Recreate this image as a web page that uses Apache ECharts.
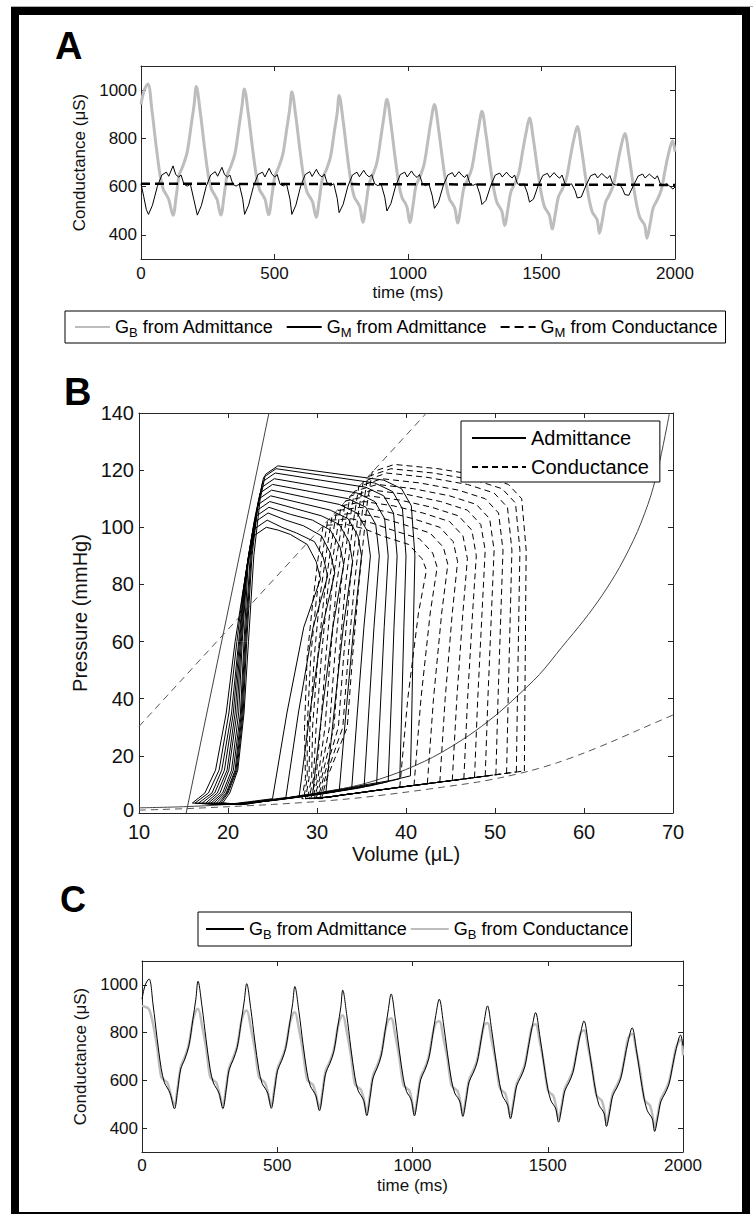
<!DOCTYPE html>
<html>
<head>
<meta charset="utf-8">
<script src="https://cdn.jsdelivr.net/npm/echarts@6.0.0/dist/echarts.min.js"></script>
<style>
html,body{margin:0;padding:0;background:#fff;}
#chart{width:753px;height:1214px;}
</style>
</head>
<body>
<div id="chart"></div>
<script>
// ---------------- DATA ----------------
// Panel A / C: time (ms) vs conductance (uS)
const timeTicks = [0, 500, 1000, 1500, 2000];
const conductanceTicks = [400, 600, 800, 1000];

const gbAdmittance = [
[0,940],[12,1000],[26,1025],
[41,916],[56,775],[71,650],[83,590],[94,568],[104,546],[120,481],
[132,561],[143,647],[158,689],[173,743],[188,855],[199,940],[207,1015],
[222,908],[237,770],[252,647],[264,589],[275,567],[285,546],[299,482],
[311,560],[322,644],[337,686],[352,738],[367,848],[378,932],[387,1005],
[402,901],[417,765],[432,645],[444,587],[455,567],[465,546],[478,483],
[490,560],[501,641],[516,682],[531,733],[546,840],[557,922],[565,993],
[580,889],[595,754],[610,634],[622,577],[633,556],[643,535],[656,473],
[668,549],[679,630],[694,670],[709,720],[724,827],[735,907],[742,978],
[757,873],[772,736],[787,615],[799,557],[810,536],[820,515],[831,452],
[843,529],[854,610],[869,651],[884,702],[899,809],[910,891],[921,962],
[936,860],[951,727],[966,609],[978,553],[989,533],[997,512],[1007,451],
[1019,524],[1030,603],[1045,642],[1060,691],[1075,793],[1086,872],[1099,940],
[1114,842],[1129,714],[1144,601],[1156,547],[1167,528],[1176,508],[1186,449],
[1198,518],[1209,593],[1224,630],[1239,676],[1254,773],[1265,847],[1277,912],
[1292,817],[1307,694],[1322,586],[1333,534],[1343,515],[1352,496],[1362,439],
[1374,506],[1385,577],[1400,613],[1415,657],[1430,751],[1442,822],[1455,884],
[1470,792],[1485,673],[1500,567],[1511,517],[1521,498],[1530,480],[1540,425],
[1552,489],[1563,556],[1578,590],[1593,633],[1608,722],[1620,790],[1634,849],
[1649,761],[1664,646],[1679,544],[1690,495],[1700,478],[1709,460],[1717,407],
[1729,469],[1740,535],[1755,568],[1770,609],[1785,696],[1797,762],[1812,820],
[1827,733],[1842,620],[1857,521],[1868,473],[1878,455],[1887,438],[1895,386],
[1907,447],[1918,511],[1933,544],[1948,584],[1963,669],[1975,733],[1991,790],[2000,745]
];

const gbConductance = [
[0,912],[12,908],[26,898],
[41,835],[56,737],[71,615],[83,600],[94,590],[104,550],[120,495],
[132,571],[143,655],[158,697],[173,750],[188,850],[199,892],[207,900],
[222,830],[237,735],[252,615],[264,600],[275,590],[285,550],[299,495],
[311,570],[322,652],[337,694],[352,745],[367,845],[378,885],[387,893],
[402,823],[417,731],[432,615],[444,600],[455,590],[465,550],[478,495],
[490,570],[501,649],[516,690],[531,740],[546,835],[557,877],[565,885],
[580,815],[595,722],[610,605],[622,590],[633,580],[643,540],[656,485],
[668,560],[679,640],[694,678],[709,728],[724,823],[735,865],[742,873],
[757,803],[772,707],[787,585],[799,570],[810,560],[820,520],[831,465],
[843,540],[854,620],[869,660],[884,710],[899,808],[910,852],[921,860],
[936,790],[951,698],[966,582],[978,567],[989,557],[997,517],[1007,462],
[1019,535],[1030,612],[1045,650],[1060,700],[1075,795],[1086,840],[1099,848],
[1114,778],[1129,692],[1144,580],[1156,565],[1167,555],[1176,515],[1186,460],
[1198,528],[1209,602],[1224,640],[1239,685],[1254,775],[1265,832],[1277,840],
[1292,770],[1307,683],[1322,570],[1333,555],[1343,545],[1352,505],[1362,450],
[1374,516],[1385,586],[1400,622],[1415,666],[1430,755],[1442,825],[1455,835],
[1470,765],[1485,675],[1500,560],[1511,545],[1521,535],[1530,495],[1540,440],
[1552,499],[1563,565],[1578,600],[1593,642],[1608,725],[1620,795],[1634,810],
[1649,740],[1664,653],[1679,540],[1690,525],[1700,515],[1709,475],[1717,420],
[1729,479],[1740,545],[1755,578],[1770,618],[1785,700],[1797,775],[1812,795],
[1827,725],[1842,635],[1857,520],[1868,505],[1878,495],[1887,455],[1895,400],
[1907,457],[1918,521],[1933,554],[1948,594],[1963,672],[1975,740],[1991,770],[2000,705]
];

const gmAdmittance = [
[0,612],[10,560],[20,505],[28,485],
[43,523],[61,600],[78,648],[95,660],[104,643],[120,686],[130,650],[141,640],[150,648],[161,610],[173,602],[185,610],[198,546],[211,482],
[226,521],[244,600],[261,648],[278,662],[287,643],[303,680],[313,650],[324,640],[333,648],[344,610],[356,602],[368,610],[381,548],[388,485],
[403,523],[421,600],[438,650],[455,660],[464,640],[480,676],[490,652],[501,640],[510,650],[521,610],[533,603],[545,612],[558,548],[565,485],
[580,523],[598,602],[615,650],[632,662],[641,642],[657,672],[667,650],[678,640],[687,652],[698,612],[710,604],[722,612],[735,551],[742,492],
[757,526],[775,602],[792,648],[809,660],[818,641],[834,668],[844,650],[855,640],[864,650],[875,612],[887,604],[899,612],[913,556],[921,499],
[936,530],[954,603],[971,650],[988,660],[997,640],[1013,665],[1023,648],[1034,638],[1043,650],[1054,612],[1066,604],[1078,612],[1091,561],[1099,510],
[1114,535],[1132,604],[1149,648],[1166,658],[1175,640],[1191,662],[1201,648],[1212,638],[1221,650],[1232,612],[1244,605],[1256,612],[1269,569],[1277,526],
[1292,543],[1310,605],[1327,648],[1344,656],[1353,640],[1369,660],[1379,646],[1390,636],[1399,648],[1410,612],[1422,605],[1434,612],[1447,574],[1455,536],
[1470,548],[1488,606],[1505,646],[1522,655],[1531,638],[1547,658],[1557,645],[1568,635],[1577,648],[1588,612],[1600,605],[1612,612],[1626,583],[1634,553],
[1649,557],[1667,606],[1684,645],[1701,653],[1710,636],[1726,655],[1736,643],[1747,634],[1756,646],[1767,612],[1779,606],[1791,612],[1804,590],[1812,567],
[1827,564],[1845,606],[1862,644],[1879,652],[1888,636],[1904,652],[1914,642],[1925,632],[1934,645],[1945,612],[1957,606],[1969,612],[1982,600],[1992,590],[2000,598]
];

const gmConductance = [[0,612],[500,611],[1000,610],[1500,608],[2000,607]];

// Panel B: volume (uL) vs pressure (mmHg)
const volumeTicks = [10, 20, 30, 40, 50, 60, 70];
const pressureTicks = [0, 20, 40, 60, 80, 100, 120, 140];

const espvrAdmittance = [[15.3,0],[24.6,140]];
const espvrConductance = [[10,30.3],[42.3,140]];
const edpvrAdmittance = [[10,1.8],[15,2.2],[20,3],[25,4.5],[30,6.8],[35,10],[39,14],[43,19.5],[47,27],[50,34],[52,39.5],[55,48.5],[57.5,58],[60,67.5],[62,76],[64,86],[66,98.5],[67.5,111],[68.5,123],[69.3,135],[69.6,140]];
const edpvrConductance = [[10,1],[15,1.5],[20,2.2],[25,3],[30,4],[35,5.4],[40,7.3],[44,9],[48,10.8],[51,12.6],[54,14.8],[57,17.6],[60,21],[63,24.8],[66,28.9],[70,34.3]];

const admittanceLoops = [
[[40.5,13],[40.65,35],[40.83,65],[41.0,90],[40.6,107.5],[39.5,113.5],[37.5,116.5],[31.55,119],[25.6,121.5],[24.2,118.5],[23.6,109.5],[22.9,90],[22.3,60],[21.8,35],[21.1,15],[20.2,7],[19.4,3.5],[21.9,3],[30,7],[38.5,11.5],[40.5,13]],
[[39.3,12],[39.51,35],[39.76,65],[40.0,90],[39.6,106.5],[38.5,112.5],[36.5,115.5],[30.95,118],[25.4,120.5],[24.0,117.5],[23.4,108.5],[22.7,90],[22.1,60],[21.7,35],[21.0,15],[20.0,7],[19.2,3.5],[21.7,3],[29.25,6.5],[37.3,10.5],[39.3,12]],
[[38.0,11],[38.3,35],[38.65,65],[39.0,90],[38.6,105],[37.5,111],[35.5,114],[30.4,116.5],[25.3,119],[23.9,116],[23.3,107],[22.6,90],[22.0,60],[21.6,35],[20.9,15],[19.9,7],[19.0,3.5],[21.5,3],[28.5,6],[36.0,9.5],[38.0,11]],
[[36.7,10.2],[37.09,35],[37.55,65],[38.0,90],[37.6,103],[36.5,109],[34.5,112],[29.85,114.5],[25.2,117],[23.8,114],[23.2,105],[22.5,90],[21.9,60],[21.5,35],[20.8,15],[19.8,7],[18.7,3.5],[21.2,3],[27.7,5.6],[34.7,8.7],[36.7,10.2]],
[[35.3,9.4],[35.81,35],[36.4,65],[37.0,90],[36.6,101],[35.5,107],[33.5,110],[29.25,112.5],[25.0,115],[23.6,112],[23.0,103],[22.3,90],[21.8,60],[21.4,35],[20.6,15],[19.6,7],[18.4,3.5],[20.9,3],[26.85,5.2],[33.3,8],[35.3,9.4]],
[[33.9,8.6],[34.53,35],[35.27,65],[36.0,90],[35.6,99],[34.5,105],[32.5,108],[28.7,110.5],[24.9,113],[23.5,110],[22.9,101],[22.2,88],[21.6,60],[21.2,35],[20.4,15],[19.4,7],[18.1,3.5],[20.6,3],[26.0,4.8],[31.9,7.3],[33.9,8.6]],
[[32.5,7.8],[33.25,35],[34.13,65],[35.0,90],[34.6,97],[33.5,103],[31.5,106],[28.15,108.5],[24.8,111],[23.4,108],[22.8,99],[22.1,86],[21.5,60],[21.0,35],[20.1,15],[19.1,7],[17.8,3.5],[20.3,3],[25.15,4.4],[30.5,6.6],[32.5,7.8]],
[[31.0,7.1],[31.9,35],[32.95,65],[34.0,88],[33.6,95],[32.5,101],[30.5,104],[27.6,106.5],[24.7,109],[23.3,106],[22.7,97],[22.0,84],[21.4,60],[20.8,35],[19.9,15],[18.8,7],[17.5,3.5],[20.0,3],[24.25,4.1],[29.0,6],[31.0,7.1]],
[[29.5,6.5],[30.55,35],[31.78,65],[33.0,87],[32.6,93],[31.5,99],[29.5,102.5],[27.05,104.5],[24.6,107],[23.2,104],[22.6,95],[21.9,82],[21.3,60],[20.6,35],[19.6,15],[18.5,7],[17.1,3.5],[19.6,3],[23.3,3.8],[27.5,5.5],[29.5,6.5]],
[[28.0,5.9],[29.2,35],[30.6,65],[32.0,84],[31.5,91],[30.5,97],[28.5,100.5],[26.5,102.5],[24.5,105],[23.1,102],[22.5,93],[21.8,80],[21.2,60],[20.4,35],[19.3,15],[18.2,7],[16.7,3.5],[19.2,3],[22.35,3.5],[26.0,5],[28.0,5.9]],
[[26.5,5.4],[27.91,35],[29.56,65],[31.2,83],[30.7,89.5],[29.7,95],[27.7,98],[26.05,100],[24.4,102.5],[23.0,99.5],[22.4,90.5],[21.7,78],[21.0,60],[20.1,35],[19.0,15],[17.8,7],[16.3,3.5],[18.8,3],[21.4,3.3],[24.5,4.6],[26.5,5.4]],
[[25.0,5.0],[26.62,35],[28.51,65],[30.4,82],[29.9,88],[28.9,94],[27.0,97.5],[25.65,99],[24.3,100],[22.9,97],[22.3,88],[21.6,76],[20.8,60],[19.8,35],[18.6,15],[17.4,7],[16.0,3.5],[18.5,3],[20.5,3.2],[23.0,4.2],[25.0,5.0]]
];

const conductanceLoops = [
[[53.3,14.7],[53.36,40],[53.44,70],[53.5,92],[53.0,110],[51.5,115],[48.5,118],[43.6,120.5],[38.7,122],[36.2,119.4],[35.6,107.4],[34.7,80],[34.0,55],[33.4,30],[31.1,12],[30.5,5],[33,6.4],[40,9.3],[47,12.1],[53.3,14.7]],
[[52.4,14.4],[52.52,40],[52.68,70],[52.8,92],[52.3,108.5],[50.8,113.5],[47.8,116.5],[43.05,119],[38.3,120.5],[35.7,117.7],[35.1,105.7],[34.2,80],[33.5,55],[32.9,30],[30.9,12],[30.3,5],[33,6.4],[40,9.3],[47,12.1],[52.4,14.4]],
[[51.3,13.9],[51.48,40],[51.72,70],[51.9,92],[51.4,107],[49.9,112],[46.9,115],[42.35,117.5],[37.8,119],[35.2,116],[34.6,104],[33.7,80],[33.0,55],[32.4,30],[30.7,12],[30.1,5],[32.8,6.3],[39.5,9.1],[46,11.7],[51.3,13.9]],
[[50.1,13.4],[50.34,40],[50.66,70],[50.9,92],[50.4,105],[48.9,110],[45.9,113],[41.6,115.5],[37.3,117],[34.7,114.3],[34.1,102.3],[33.2,80],[32.5,55],[31.9,30],[30.5,12],[29.9,5],[32.5,6.1],[39,8.9],[45,11.3],[50.1,13.4]],
[[48.9,12.9],[49.2,40],[49.6,70],[49.9,92],[49.4,103],[47.9,108],[44.9,111],[40.85,113.5],[36.8,115],[34.2,112.6],[33.6,100.6],[32.7,80],[32.0,55],[31.4,30],[30.3,12],[29.7,5],[32.2,6.0],[38.5,8.7],[44,10.9],[48.9,12.9]],
[[47.7,12.4],[48.06,40],[48.54,70],[48.9,92],[48.4,101],[46.9,106],[43.9,109],[40.1,111.5],[36.3,113],[33.7,110.9],[33.1,98.9],[32.2,80],[31.5,55],[30.9,30],[30.1,12],[29.5,5],[32,5.9],[38,8.5],[43,10.5],[47.7,12.4]],
[[46.5,11.9],[46.92,40],[47.48,70],[47.9,90],[47.4,99],[45.9,104],[42.9,107],[39.35,109.5],[35.8,111],[33.2,109.2],[32.6,97.2],[31.7,80],[31.0,55],[30.4,30],[29.9,12],[29.3,5],[31.8,5.8],[37.5,8.2],[42,10.1],[46.5,11.9]],
[[45.2,11.4],[45.71,40],[46.39,70],[46.9,89],[46.4,97],[44.9,102],[41.9,105],[38.6,107.5],[35.3,109],[32.7,107.5],[32.1,95.5],[31.2,78],[30.5,55],[29.9,30],[29.6,12],[29.1,5],[31.5,5.7],[37,8.0],[41,9.7],[45.2,11.4]],
[[43.8,10.8],[44.4,40],[45.2,70],[45.8,88],[45.3,95],[43.8,100],[40.8,103],[37.8,105.5],[34.8,107],[32.2,105.8],[31.6,93.8],[30.8,76],[30.1,55],[29.5,30],[29.4,12],[28.9,5],[31.2,5.6],[36,7.6],[40,9.3],[43.8,10.8]],
[[42.4,10.3],[43.09,40],[44.01,70],[44.7,87],[44.2,93],[42.7,98],[39.7,101],[37,103.5],[34.3,105],[31.7,104.1],[31.1,92.1],[30.3,75],[29.7,55],[29.2,30],[29.1,12],[28.7,5],[31,5.5],[35,7.2],[39,8.9],[42.4,10.3]],
[[40.9,9.6],[41.68,40],[42.72,70],[43.5,86],[43.0,91],[41.5,96],[38.5,99],[36.15,101.5],[33.8,103],[31.2,102.4],[30.6,90.4],[29.9,74],[29.3,55],[28.9,30],[28.9,12],[28.5,5],[30.8,5.4],[34.5,7.0],[38,8.5],[40.9,9.6]],
[[39.3,9.0],[40.2,40],[41.4,70],[42.3,85],[41.8,89],[40.3,94],[37.3,97],[35.3,99.5],[33.3,101],[30.7,100.7],[30.1,88.7],[29.5,73],[28.9,55],[28.6,30],[28.7,12],[28.3,5],[30.6,5.3],[33.5,6.6],[36.5,7.8],[39.3,9.0]]
];

// ---------------- STYLE / LAYOUT ----------------
const FONT = "'Liberation Sans', Arial, Helvetica, sans-serif";
const AX = '#262626';
const TXT = '#111';
const GRAY = '#bdbdbd';

const legendLabels = {
  'A-GB-adm': 'G{s|B} from Admittance',
  'A-GM-adm': 'G{s|M} from Admittance',
  'A-GM-cond': 'G{s|M} from Conductance',
  'C-GB-adm': 'G{s|B} from Admittance',
  'C-GB-cond': 'G{s|B} from Conductance'
};
const plain = v => String(v);

function xAx(grid, min, max, interval, pos, opts) {
  const o = {
    gridIndex: grid, type: 'value', min: min, max: max, interval: interval, position: pos,
    axisLine: { show: true, onZero: false, lineStyle: { color: AX, width: 1 } },
    axisTick: { show: true, inside: true, length: 5, lineStyle: { color: AX, width: 1 } },
    axisLabel: { show: pos === 'bottom', color: TXT, fontFamily: FONT, fontSize: opts.fs, margin: opts.margin, formatter: opts.fmt || plain },
    splitLine: { show: false }
  };
  if (opts.lh) o.axisLabel.lineHeight = opts.lh;
  if (opts.rich) o.axisLabel.rich = opts.rich;
  if (pos === 'bottom' && opts.name) {
    o.name = opts.name; o.nameLocation = 'middle'; o.nameGap = opts.nameGap;
    o.nameTextStyle = { color: TXT, fontFamily: FONT, fontSize: opts.nfs, verticalAlign: 'middle' };
  }
  return o;
}
function yAx(grid, min, max, pos, opts) {
  const o = {
    gridIndex: grid, type: 'value', min: min, max: max, position: pos,
    axisLine: { show: true, onZero: false, lineStyle: { color: AX, width: 1 } },
    axisTick: { show: true, inside: true, length: 5, lineStyle: { color: AX, width: 1 } },
    axisLabel: { show: pos === 'left', color: TXT, fontFamily: FONT, fontSize: opts.fs, margin: opts.margin, formatter: opts.fmt || plain },
    splitLine: { show: false }
  };
  if (opts.lh) o.axisLabel.lineHeight = opts.lh;
  if (opts.rich) o.axisLabel.rich = opts.rich;
  if (opts.interval) o.interval = opts.interval;
  if (opts.custom) {
    o.axisTick.customValues = opts.custom;
    o.axisLabel.customValues = opts.custom;
  }
  if (pos === 'left' && opts.name) {
    o.name = opts.name; o.nameLocation = 'middle'; o.nameGap = opts.nameGap;
    o.nameTextStyle = { color: TXT, fontFamily: FONT, fontSize: opts.nfs, verticalAlign: 'middle' };
  }
  return o;
}

const legendRich = { s: { fontSize: 13, lineHeight: 13, verticalAlign: 'bottom', fontFamily: FONT, color: '#000' } };
const hiddenSymbol = { opacity: 0, borderWidth: 0 };
// lift the "0" pressure label slightly so it clears the "10" volume label
const pressureFmt = v => (v === 0 ? '{z|0}' : String(v));
const pressureRich = { z: { fontSize: 20, lineHeight: 14, fontFamily: FONT, color: TXT, padding: [0, 0, 7, 0] } };

function line(name, xi, yi, data, style, extra) {
  return Object.assign({
    name: name, type: 'line', xAxisIndex: xi, yAxisIndex: yi, data: data,
    symbol: 'none', showSymbol: false, lineStyle: style, itemStyle: { color: style.color },
    silent: true, animation: false, clip: true
  }, extra || {});
}

const series = [];
// Panel A
series.push(line('A-GB-adm', 0, 0, gbAdmittance, { color: GRAY, width: 3 }, { smooth: 0.35 }));
series.push(line('A-GM-adm', 0, 0, gmAdmittance, { color: '#000', width: 1 }));
series.push(line('A-GM-cond', 0, 0, gmConductance, { color: '#000', width: 2.5, type: [9, 5] }));
// Panel B
series.push(line('Admittance', 2, 2, admittanceLoops[0], { color: '#000', width: 1 }));
series.push(line('Conductance', 2, 2, conductanceLoops[0], { color: '#000', width: 1, type: [6, 4] }));
series.push(line('ESPVR Admittance', 2, 2, espvrAdmittance, { color: '#444', width: 1 }));
series.push(line('EDPVR Admittance', 2, 2, edpvrAdmittance, { color: '#444', width: 1 }, { smooth: 0.3 }));
series.push(line('ESPVR Conductance', 2, 2, espvrConductance, { color: '#555', width: 1, type: [7, 5] }));
series.push(line('EDPVR Conductance', 2, 2, edpvrConductance, { color: '#555', width: 1, type: [7, 5] }, { smooth: 0.3 }));
admittanceLoops.slice(1).forEach(d => series.push(line('Admittance', 2, 2, d, { color: '#000', width: 1 })));
conductanceLoops.slice(1).forEach(d => series.push(line('Conductance', 2, 2, d, { color: '#000', width: 1, type: [6, 4] })));
// Panel C
series.push(line('C-GB-cond', 4, 4, gbConductance, { color: GRAY, width: 2.5 }, { smooth: 0.35 }));
series.push(line('C-GB-adm', 4, 4, gbAdmittance, { color: '#000', width: 1 }, { smooth: 0.35 }));

const option = {
  animation: false,
  backgroundColor: '#fff',
  grid: [
    { left: 141, top: 66, width: 534, height: 193, show: false },
    { left: 139, top: 413, width: 534, height: 400, show: false },
    { left: 142, top: 961, width: 541, height: 191, show: false }
  ],
  xAxis: [
    xAx(0, timeTicks[0], timeTicks[timeTicks.length - 1], 500, 'bottom', { fs: 17, margin: 6, name: 'time (ms)', nameGap: 33, nfs: 17 }),
    xAx(0, timeTicks[0], timeTicks[timeTicks.length - 1], 500, 'top', { fs: 17, margin: 6 }),
    xAx(1, volumeTicks[0], volumeTicks[volumeTicks.length - 1], 10, 'bottom', { fs: 20, margin: 12, lh: 14, name: 'Volume (μL)', nameGap: 41, nfs: 20 }),
    xAx(1, volumeTicks[0], volumeTicks[volumeTicks.length - 1], 10, 'top', { fs: 20, margin: 7 }),
    xAx(2, timeTicks[0], timeTicks[timeTicks.length - 1], 500, 'bottom', { fs: 17, margin: 5, name: 'time (ms)', nameGap: 33, nfs: 17 }),
    xAx(2, timeTicks[0], timeTicks[timeTicks.length - 1], 500, 'top', { fs: 17, margin: 5 })
  ],
  yAxis: [
    yAx(0, 300, 1100, 'left', { fs: 17, margin: 4, custom: conductanceTicks, name: 'Conductance (μS)', nameGap: 58, nfs: 17 }),
    yAx(0, 300, 1100, 'right', { fs: 17, margin: 4, custom: conductanceTicks }),
    yAx(1, pressureTicks[0], pressureTicks[pressureTicks.length - 1], 'left', { fs: 20, margin: 5, lh: 14, interval: 20, fmt: pressureFmt, rich: pressureRich, name: 'Pressure (mmHg)', nameGap: 58, nfs: 20 }),
    yAx(1, pressureTicks[0], pressureTicks[pressureTicks.length - 1], 'right', { fs: 20, margin: 5, interval: 20 }),
    yAx(2, 300, 1100, 'left', { fs: 17, margin: 4, custom: conductanceTicks, name: 'Conductance (μS)', nameGap: 59, nfs: 17 }),
    yAx(2, 300, 1100, 'right', { fs: 17, margin: 4, custom: conductanceTicks })
  ],
  legend: [
    {
      left: 65, top: 311, orient: 'horizontal', itemWidth: 35, itemHeight: 12, itemGap: 12,
      padding: [4, 8, 4, 9], borderColor: '#000', borderWidth: 1, borderRadius: 0, backgroundColor: '#fff',
      selectedMode: false, data: ['A-GB-adm', 'A-GM-adm', 'A-GM-cond'],
      formatter: n => legendLabels[n], itemStyle: hiddenSymbol,
      textStyle: { fontSize: 18, lineHeight: 24, fontFamily: FONT, color: '#000', rich: legendRich }
    },
    {
      left: 461, top: 421, orient: 'vertical', itemWidth: 54, itemHeight: 14, itemGap: 9,
      padding: [7, 11, 5, 10], borderColor: '#000', borderWidth: 1, borderRadius: 0, backgroundColor: '#fff',
      selectedMode: false, data: ['Admittance', 'Conductance'], itemStyle: hiddenSymbol,
      textStyle: { fontSize: 20, lineHeight: 20, fontFamily: FONT, color: '#000' }
    },
    {
      left: 198, top: 912, orient: 'horizontal', itemWidth: 38, itemHeight: 12, itemGap: 2,
      padding: [5, 3, 5, 7], borderColor: '#000', borderWidth: 1, borderRadius: 0, backgroundColor: '#fff',
      selectedMode: false, data: ['C-GB-adm', 'C-GB-cond'],
      formatter: n => legendLabels[n], itemStyle: hiddenSymbol,
      textStyle: { fontSize: 18, lineHeight: 24, fontFamily: FONT, color: '#000', rich: legendRich }
    }
  ],
  graphic: [
    { type: 'line', silent: true, shape: { x1: 11, y1: 6.5, x2: 753, y2: 6.5 }, style: { stroke: '#b0b0b0', lineWidth: 1 } },
    { type: 'rect', silent: true, shape: { x: 15, y: 11, width: 731, height: 1205 }, style: { fill: 'none', stroke: '#000', lineWidth: 8 } },
    { type: 'text', silent: true, x: 55, y: 46, style: { text: 'A', fontSize: 38, fontWeight: 'bold', fontFamily: FONT, fill: '#000', align: 'left', verticalAlign: 'middle' } },
    { type: 'text', silent: true, x: 64, y: 392, style: { text: 'B', fontSize: 38, fontWeight: 'bold', fontFamily: FONT, fill: '#000', align: 'left', verticalAlign: 'middle' } },
    { type: 'text', silent: true, x: 60, y: 899, style: { text: 'C', fontSize: 36, fontWeight: 'bold', fontFamily: FONT, fill: '#000', align: 'left', verticalAlign: 'middle' } }
  ],
  series: series
};

const chart = echarts.init(document.getElementById('chart'), null, { renderer: 'svg', width: 753, height: 1214 });
chart.setOption(option);
</script>
</body>
</html>
